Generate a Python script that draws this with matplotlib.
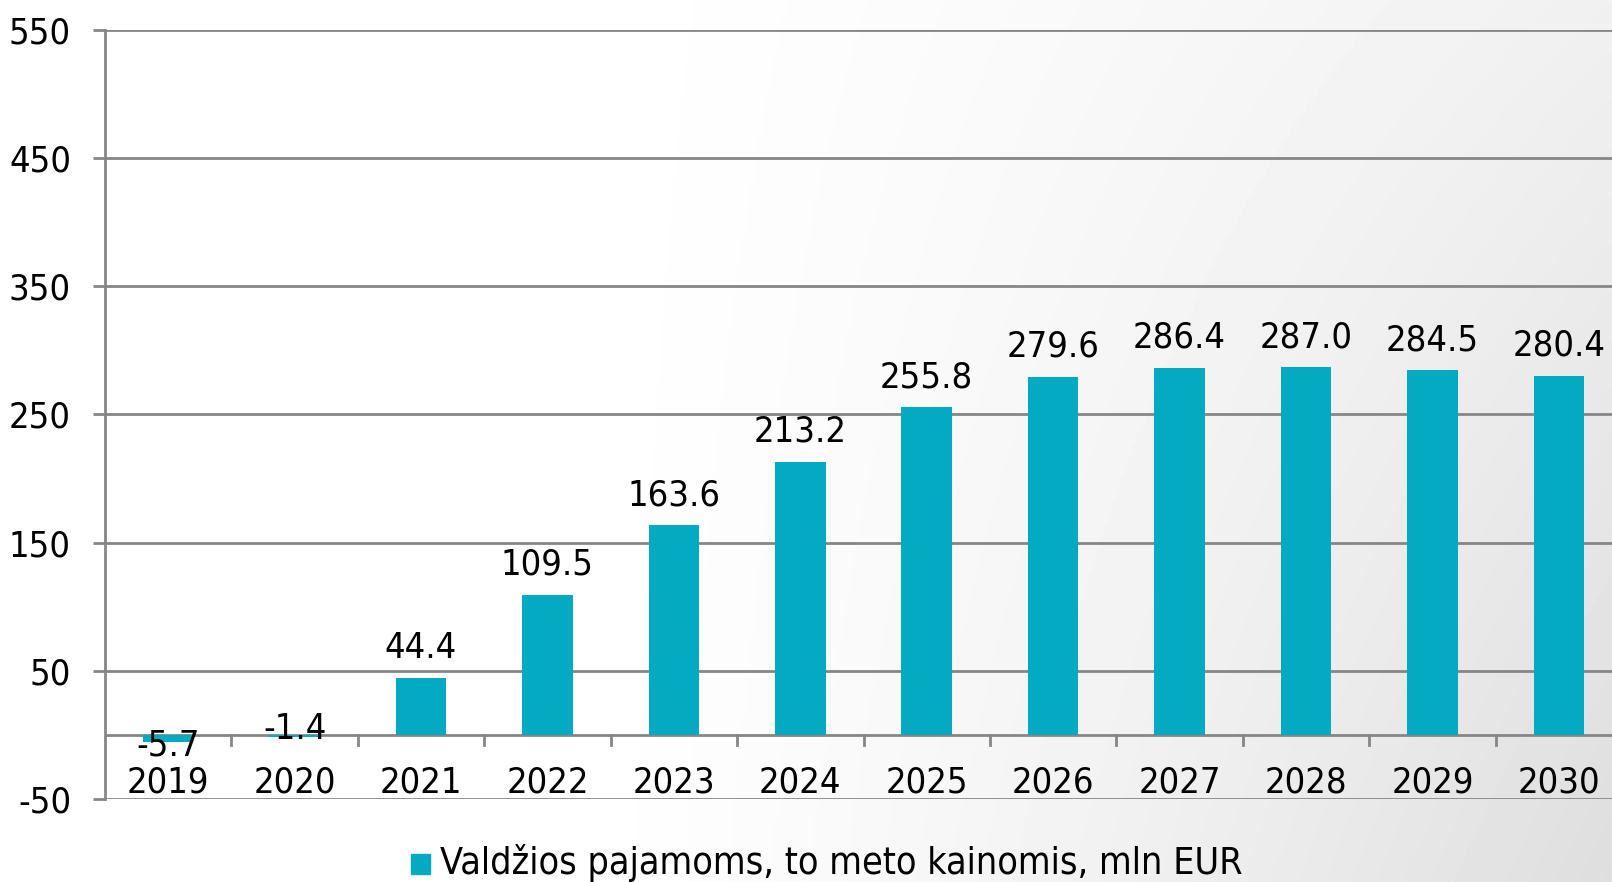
import matplotlib.pyplot as plt
import numpy as np

years = ["2019", "2020", "2021", "2022", "2023", "2024",
         "2025", "2026", "2027", "2028", "2029", "2030"]
values = [-5.7, -1.4, 44.4, 109.5, 163.6, 213.2,
          255.8, 279.6, 286.4, 287.0, 284.5, 280.4]
yticks = [-50, 50, 150, 250, 350, 450, 550]
series_name = "Valdžios pajamoms, to meto kainomis, mln EUR"

bar_color = "#04a9c2"
line_color = "#868686"
fs = 26
font = dict(family="DejaVu Sans", stretch="condensed")
px = 72 / 100  # points per pixel

fig = plt.figure(figsize=(16.12, 8.82), dpi=100)

# soft grey gradient behind everything
bg = fig.add_axes([0, 0, 1, 1], zorder=-10)
gx, gy = np.meshgrid(np.linspace(0, 1, 400), np.linspace(0, 1, 220))
shade = 1 - 0.13 * np.clip((gx - 0.35) / 0.65, 0, 1) ** 1.3 * (0.45 + 0.55 * gy)
bg.imshow(shade, cmap="gray", vmin=0, vmax=1, aspect="auto",
          extent=[0, 1, 0, 1], origin="upper")
bg.axis("off")

# plot area runs a little past the right edge of the picture, as in the original
ax = fig.add_axes([105 / 1612, 1 - 799 / 882, 1517 / 1612, 769 / 882])
ax.set_facecolor("none")

x = np.arange(len(years))
ax.bar(x, values, width=0.4, color=bar_color, zorder=3)

ax.set_xlim(-0.5, len(years) - 0.5)
ax.set_ylim(-50, 550)
ax.set_yticks(yticks)
ax.set_yticklabels([str(t) for t in yticks], fontsize=fs, **font)
ax.grid(axis="y", color=line_color, linewidth=2, zorder=0)
ax.tick_params(axis="y", length=12 * px, width=2, color=line_color, pad=22 * px)

for s in ["top", "right", "bottom"]:
    ax.spines[s].set_visible(False)
ax.spines["left"].set_color(line_color)
ax.spines["left"].set_linewidth(2)

# category axis sits on zero
ax.axhline(0, color=line_color, linewidth=2, zorder=2)
ax.set_xticks([])
for i in range(1, len(years)):
    ax.plot([i - 0.5, i - 0.5], [0, -10 / 1.2817], color=line_color,
            linewidth=2, clip_on=False, zorder=2)
for i, yr in enumerate(years):
    ax.annotate(yr, (i, 0), xytext=(0, -58 * px), textcoords="offset points",
                ha="center", va="baseline", fontsize=fs, **font)

for i, v in enumerate(values):
    if v >= 0:
        dy = 20
    elif v < -3:
        dy = -13
    else:
        dy = -2
    ax.annotate(f"{v:.1f}", (i, v), xytext=(0, dy * px), textcoords="offset points",
                ha="center", va="baseline", fontsize=fs, zorder=5, **font)

# legend
fig.patches.append(plt.Rectangle((411 / 1612, 1 - 874 / 882), 19 / 1612, 20 / 882,
                                 transform=fig.transFigure, color=bar_color))
fig.text(440 / 1612, 1 - 874 / 882, series_name, fontsize=27, va="baseline",
         ha="left", **font)

fig.savefig("out.png", dpi=100)
